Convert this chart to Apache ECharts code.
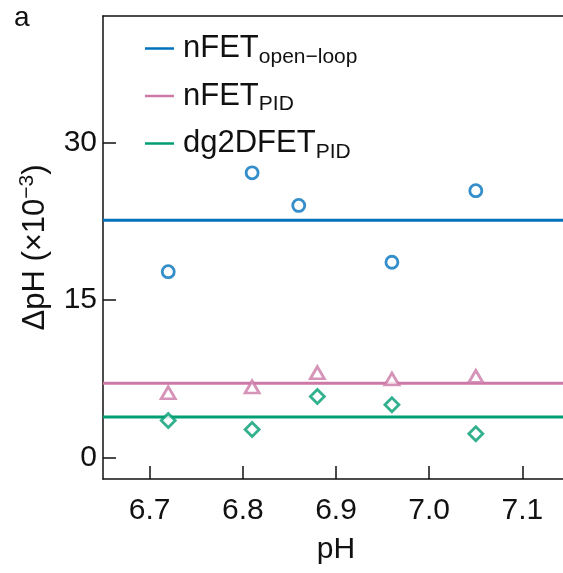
<!DOCTYPE html>
<html>
<head>
<meta charset="utf-8">
<script src="https://cdn.jsdelivr.net/npm/echarts@6/dist/echarts.min.js"></script>
<style>
  html, body { margin: 0; padding: 0; background: #fff; }
  #chart { width: 563px; height: 573px; }
</style>
</head>
<body>
<div id="chart"></div>
<script>
// 数据
const phOpen = [6.72, 6.81, 6.86, 6.96, 7.05]
const dphOpen = [17.7, 27.1, 24.0, 18.6, 25.4]
const phPid = [6.72, 6.81, 6.88, 6.96, 7.05]
const dphNfetPid = [6.2, 6.75, 8.1, 7.5, 7.75]
const dphDgPid = [3.55, 2.7, 5.85, 5.05, 2.3]
const meanValues = [22.6, 7.1, 3.9]   // open-loop, nFET PID, dg2DFET PID
const seriesNames = ['nFET_open', 'nFET_PID', 'dg2DFET_PID']
const xRange = [6.65, 7.15]
const yRange = [-2, 42]
const yTicks = [0, 15, 30]
const xTicks = [6.7, 6.8, 6.9, 7.0, 7.1]

const colors = ['#0072bd', '#cc79a7', '#009e73']
const font = 'Liberation Sans'

const myChart = echarts.init(document.getElementById('chart'))

const pts = (xs, ys) => xs.map((x, i) => [x, ys[i]])

// 平均线
const meanSeries = meanValues.map((v, i) => ({
  name: seriesNames[i],
  type: 'line',
  data: [[xRange[0], v], [xRange[1], v]],
  showSymbol: false,
  silent: true,
  lineStyle: { color: colors[i], width: 3 },
  itemStyle: { color: colors[i] },
  z: 2
}))

// 空心标记
const scatterStyle = (c) => ({ color: '#fff', borderColor: c, borderWidth: 2.8 })

const axisLine = { show: true, onZero: false, lineStyle: { color: '#111', width: 1.5 } }

const option = {
  animation: false,
  textStyle: { fontFamily: font },
  grid: {
    left: 103, top: 16, width: 466, height: 463,
    outerBoundsMode: 'none'
  },
  legend: {
    orient: 'vertical',
    left: 140,
    top: 28,
    itemWidth: 29,
    itemHeight: 2.5,
    itemGap: 13,
    icon: 'rect',
    data: seriesNames,
    formatter: function (name) {
      if (name === 'nFET_open') return '{m|nFET}{s|open−loop}'
      if (name === 'nFET_PID') return '{m|nFET}{s|PID}'
      return '{m|dg2DFET}{s|PID}'
    },
    textStyle: {
      fontFamily: font,
      color: '#111',
      rich: {
        m: { fontSize: 31, fontFamily: font, color: '#111', padding: [0, 0, 0, 4] },
        s: { fontSize: 21, fontFamily: font, color: '#111', padding: [17, 0, 0, 0] }
      }
    }
  },
  xAxis: [
    {
      type: 'value',
      position: 'bottom',
      min: xRange[0],
      max: xRange[1],
      name: 'pH',
      nameLocation: 'middle',
      nameGap: 56,
      nameTextStyle: { fontSize: 30, color: '#111', fontFamily: font },
      axisLine: axisLine,
      axisTick: { inside: true, length: 13, customValues: xTicks, lineStyle: { color: '#111', width: 1.5 } },
      axisLabel: {
        customValues: xTicks,
        formatter: v => v.toFixed(1),
        fontSize: 30, color: '#111', margin: 17, fontFamily: font
      },
      splitLine: { show: false }
    },
    {
      // 上边框
      type: 'value', position: 'top',
      min: xRange[0], max: xRange[1],
      axisLine: axisLine,
      axisTick: { show: false }, axisLabel: { show: false }, splitLine: { show: false }
    }
  ],
  yAxis: {
    type: 'value',
    min: yRange[0],
    max: yRange[1],
    name: 'ΔpH (×10{sup|−3})',
    nameLocation: 'middle',
    nameGap: 50,
    nameTextStyle: {
      fontSize: 31, color: '#111', fontFamily: font,
      rich: {
        sup: { fontSize: 21, color: '#111', fontFamily: font, padding: [0, 0, 15, 0] }
      }
    },
    axisLine: axisLine,
    axisTick: { inside: true, length: 13, customValues: yTicks, lineStyle: { color: '#111', width: 1.5 } },
    axisLabel: { customValues: yTicks, fontSize: 30, color: '#111', margin: 6, fontFamily: font },
    splitLine: { show: false }
  },
  graphic: [
    { type: 'text', left: 14, top: 4, style: { text: 'a', fontSize: 28, fontFamily: font, fill: '#111' } }
  ],
  series: [
    ...meanSeries,
    {
      name: 'open_pts', type: 'scatter', data: pts(phOpen, dphOpen),
      symbol: 'circle', symbolSize: 12, itemStyle: scatterStyle(colors[0]), z: 3
    },
    {
      name: 'nfet_pts', type: 'scatter', data: pts(phPid, dphNfetPid),
      symbol: 'triangle', symbolSize: [14, 12], itemStyle: scatterStyle(colors[1]), z: 3
    },
    {
      name: 'dg_pts', type: 'scatter', data: pts(phPid, dphDgPid),
      symbol: 'diamond', symbolSize: 14, itemStyle: scatterStyle(colors[2]), z: 3
    }
  ]
}

myChart.setOption(option)
</script>
</body>
</html>
